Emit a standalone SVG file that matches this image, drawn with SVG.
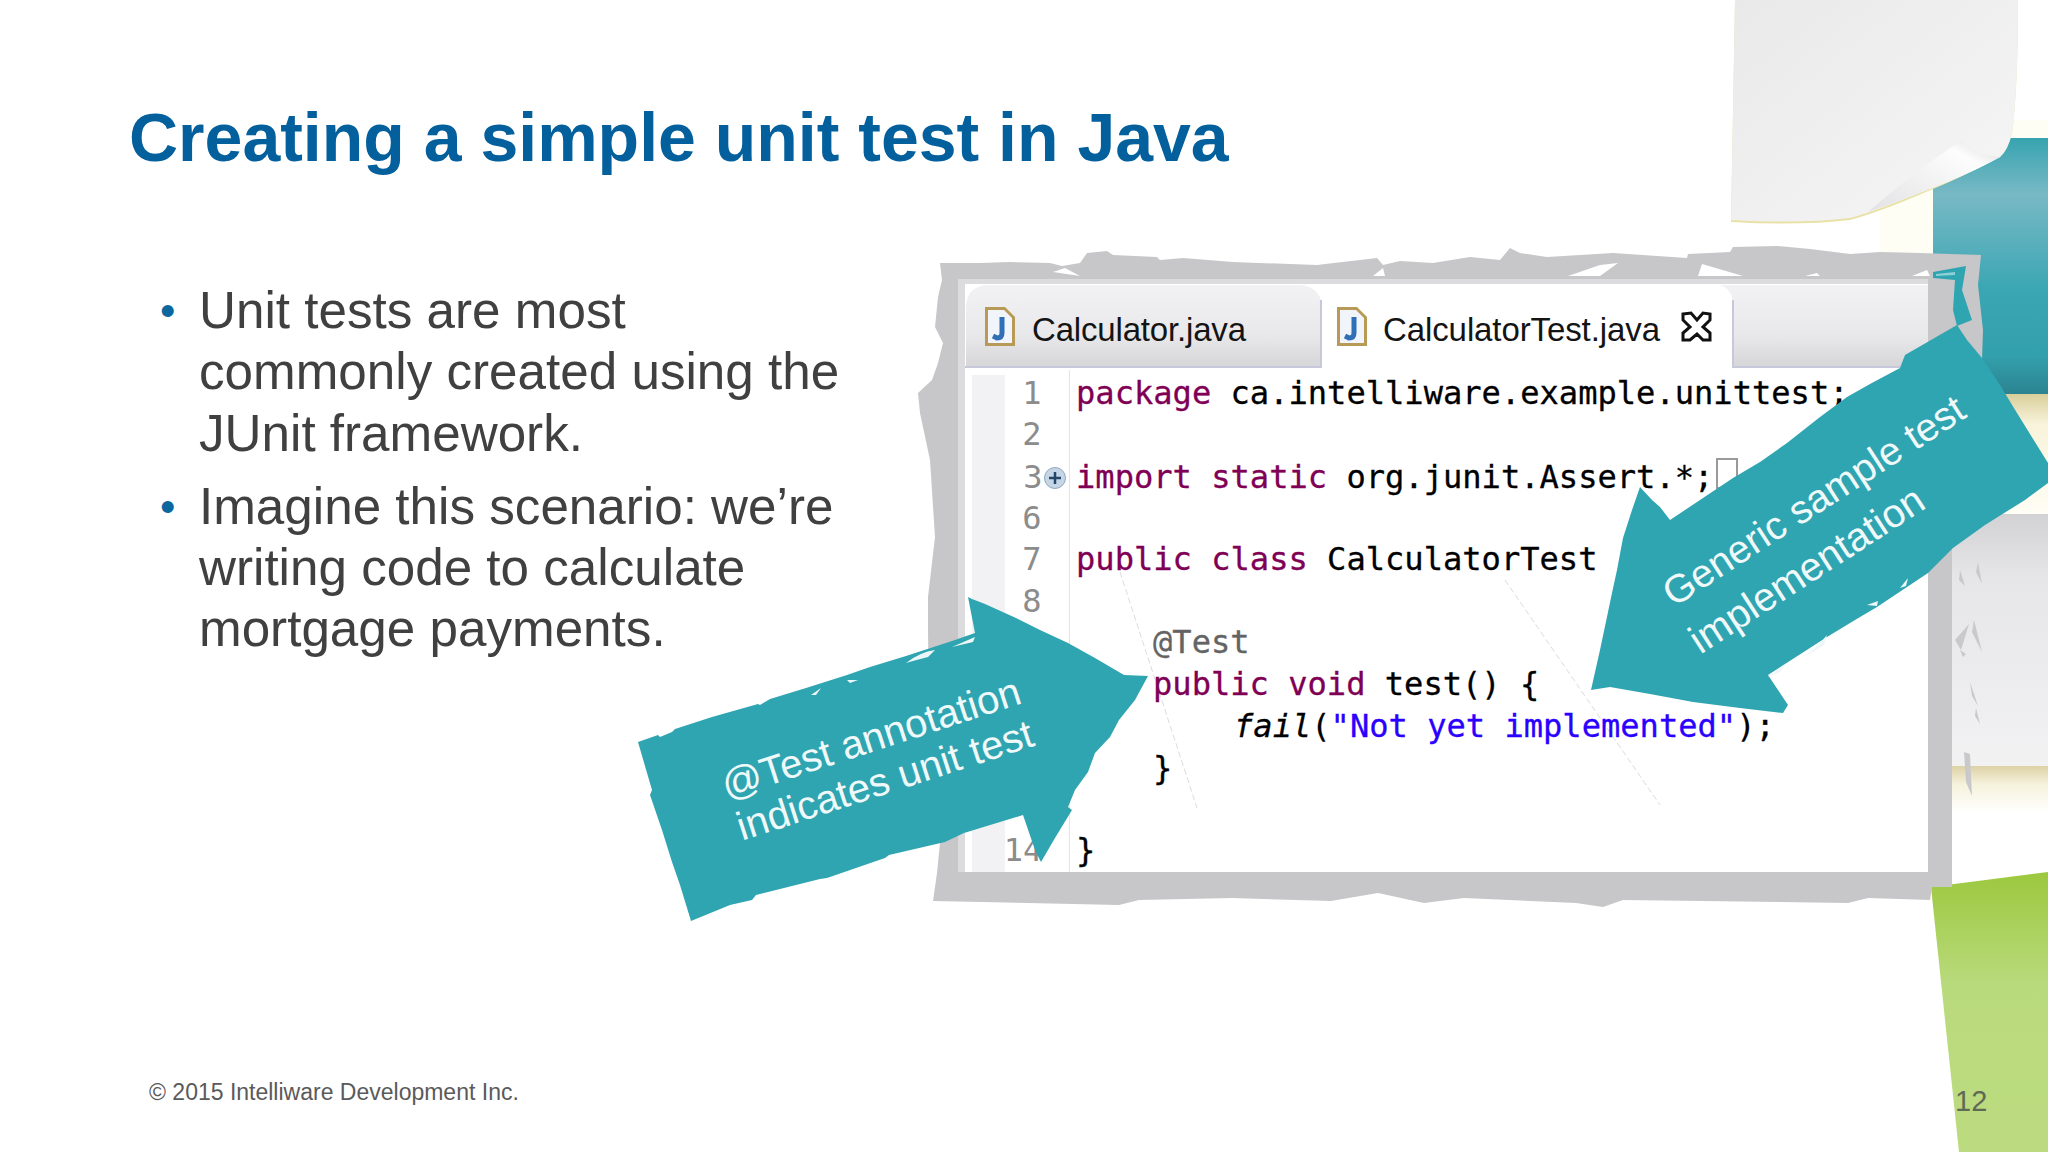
<svg xmlns="http://www.w3.org/2000/svg" width="2048" height="1152" viewBox="0 0 2048 1152">
<style>
.sans{font-family:"Liberation Sans",Arial,sans-serif}
.body{font-size:51.2px;fill:#404040}
.bullet{font-size:44px;fill:#0b689f}
.code{font-family:"DejaVu Sans Mono","Liberation Mono",monospace;font-size:32.1px;fill:#000;stroke:#000;stroke-width:.3px;white-space:pre}
.kw{fill:#7f0055;stroke:#7f0055}.str{fill:#2a00ff;stroke:#2a00ff}.ann{fill:#646464;stroke:#646464}
.num{font-family:"DejaVu Sans Mono","Liberation Mono",monospace;font-size:32px;fill:#8c8c8c;text-anchor:middle}
.tab{font-size:33px;fill:#141414}
.call{font-size:40px;fill:#f0f9fa;text-anchor:middle}
.teal{fill:#2fa5b1}
.frame{fill:#c7c6c9}
.speck{fill:#c9c9cb}
.flake{fill:#eef7f8}
</style>
<defs>
<linearGradient id="tealBg" x1="0" y1="0" x2="0" y2="1"><stop offset="0" stop-color="#37a4b0"/><stop offset=".22" stop-color="#78b9c5"/><stop offset=".6" stop-color="#3aa6b3"/><stop offset=".85" stop-color="#33a0ad"/><stop offset="1" stop-color="#2b8490"/></linearGradient>
<linearGradient id="paper" x1="0" y1="0" x2="1" y2="1"><stop offset="0" stop-color="#e9e9ea"/><stop offset="1" stop-color="#f6f6f7"/></linearGradient>
<linearGradient id="paper2" x1="0" y1="0" x2="0" y2="1"><stop offset="0" stop-color="#d2d2d5"/><stop offset=".25" stop-color="#e6e6e9"/><stop offset="1" stop-color="#f2f2f3"/></linearGradient>
<linearGradient id="cream" x1="0" y1="0" x2="0" y2="1"><stop offset="0" stop-color="#ddd2a6"/><stop offset=".4" stop-color="#f6f2dc"/><stop offset="1" stop-color="#fff"/></linearGradient>
<linearGradient id="cream2" x1="0" y1="0" x2="0" y2="1"><stop offset="0" stop-color="#d8cd98"/><stop offset=".25" stop-color="#f8f3da"/><stop offset="1" stop-color="#fffef6"/></linearGradient>
<linearGradient id="green" x1="0" y1="0" x2="0" y2="1"><stop offset="0" stop-color="#9cc83e"/><stop offset=".4" stop-color="#b9da7c"/><stop offset="1" stop-color="#bcdb80"/></linearGradient>
<linearGradient id="tabG" x1="0" y1="0" x2="0" y2="1"><stop offset="0" stop-color="#f2f1f3"/><stop offset=".6" stop-color="#e9e9eb"/><stop offset="1" stop-color="#d6d6d9"/></linearGradient>
<linearGradient id="curl" x1="0" y1="1" x2="1" y2="0"><stop offset="0" stop-color="#e2e2e4"/><stop offset=".75" stop-color="#fdfdfd"/><stop offset="1" stop-color="#d8d8da"/></linearGradient>
<g id="jicon"><path d="M0 0H20L30 10V39H0Z" fill="#b69a55"/><path d="M3 3H19L27 11V36H3Z" fill="#f1f4fa"/><path d="M17 10V26Q17 31 12 31L8 29" fill="none" stroke="#2f6fb6" stroke-width="5"/></g>
</defs>

<g id="background">
<rect width="2048" height="1152" fill="#fff"/>
<rect x="1880" y="120" width="168" height="150" fill="#fffef4"/>
<rect x="1933" y="393" width="115" height="122" fill="url(#cream2)"/>
<rect x="1933" y="138" width="115" height="256" fill="url(#tealBg)"/>
<path d="M1735 0H2018Q2018 90 2012 133Q2008 150 2000 157Q1960 178 1933 189Q1880 212 1850 220Q1800 226 1731 222Z" fill="#e8e2a6"/>
<path d="M1735 0H2018Q2018 90 2012 133Q2008 150 2000 157Q1960 178 1933 187Q1880 210 1850 218Q1800 224 1731 220Z" fill="url(#paper)"/>
<path d="M1868 212Q1910 175 1962 140Q1972 155 2000 157Q1960 180 1868 212Z" fill="url(#curl)"/>
<rect x="1952" y="514" width="96" height="256" fill="url(#paper2)"/>
<rect x="1952" y="766" width="96" height="46" fill="url(#cream)"/>
<path d="M1931 887L2048 872V1152H1959Z" fill="url(#green)"/>
<g class="speck">
<path d="M1978 562l4 22l-6-12zM1960 570l5 16l-6-6zM1974 620l8 32l-10-20zM1955 640l14-16l-8 26zM1970 682l8 24l-6-10zM1976 708l4 16l-5-8zM1964 752l6 2l2 42l-6-14zM1960 650l6 4l-3 3z"/>
</g>
</g>

<g id="title"><text class="sans" x="129" y="161" font-size="68" font-weight="700" fill="#03609c">Creating a simple unit test in Java</text></g>

<g id="bullets" class="sans">
<text class="bullet" x="160" y="326">•</text>
<text class="body" x="199" y="328">Unit tests are most</text>
<text class="body" x="199" y="389">commonly created using the</text>
<text class="body" x="199" y="451">JUnit framework.</text>
<text class="bullet" x="160" y="522">•</text>
<text class="body" x="199" y="524">Imagine this scenario: we’re</text>
<text class="body" x="199" y="585">writing code to calculate</text>
<text class="body" x="199" y="646">mortgage payments.</text>
</g>

<g id="screenshot">
<path class="frame" d="M940 263L980 263L1010 262L1050 263L1062 266L1080 263L1087 253L1107 251L1113 255L1157 257L1160 260L1183 258L1233 262L1317 265L1377 258L1383 265L1400 261L1433 263L1470 257L1500 260L1510 248L1520 253L1547 257L1613 253L1687 258L1688 254L1730 252L1733 247L1777 246L1810 249L1850 254L1880 252L1920 253L1981 255L1978 285L1983 330L1982 360L1952 420V887L1932 887L1930 900L1868 898L1848 903L1623 900L1603 907L1576 903L1464 898L1424 903L1378 893L1331 901L1232 898L1139 900L1119 905L933 901L937 873L940 843L930 780L928 630L928 597L935 537L930 460L920 413L918 393L932 380L938 363L943 343L935 327L938 297L942 280Z"/>
<g fill="#fff">
<path d="M1053 272L1080 276L1065 268ZM1373 276L1383 268L1385 276ZM1568 276L1600 265L1618 263L1600 276ZM1698 276L1702 264L1743 276ZM1805 276L1817 273L1820 276ZM1912 276L1927 270L1930 276Z"/>
</g>
<rect x="958" y="279" width="970" height="5" fill="#dcdcde"/>
<rect x="958" y="279" width="7" height="593" fill="#dcdcde"/>
<rect x="965" y="284" width="963" height="588" fill="#fff"/>
<path d="M1933 272L1966 266L1962 290L1972 320L1957 326L1953 310L1955 280L1933 278Z" class="teal"/>
<path d="M1936 274L1955 272L1955 275L1936 276Z" fill="#8ccfd6"/>
<path d="M966 367V306Q967 288 985 285H1300Q1316 286 1321 300V367Z" fill="url(#tabG)"/>
<path d="M1733 367V300Q1730 288 1720 285H1928V367Z" fill="url(#tabG)"/>
<path d="M965 367H1321V300M1733 300V367H1928" fill="none" stroke="#c8c8dc" stroke-width="2"/>
<use href="#jicon" x="985" y="307"/>
<use href="#jicon" x="1337" y="307"/>
<text class="sans tab" x="1032" y="341" textLength="214">Calculator.java</text>
<text class="sans tab" x="1383" y="341" textLength="277">CalculatorTest.java</text>
<path d="M1683 314L1691 313L1697 320L1703 313L1710 314L1710 320L1703 327L1710 333L1710 340L1703 340L1697 334L1690 340L1683 340L1683 333L1690 327L1683 320Z" fill="#fff" stroke="#111" stroke-width="3"/>
<rect x="972" y="375" width="33" height="497" fill="#f2f1f3"/>
<rect x="1069" y="370" width="1" height="502" fill="#e4e4e4"/>
<path d="M1120 572L1197 808M1505 580L1660 805" fill="none" stroke="#dcdcdc" stroke-width="1" stroke-dasharray="6 3"/>
<text class="num" x="1032" y="404">1</text>
<text class="num" x="1032" y="445">2</text>
<text class="num" x="1033" y="488">3</text>
<text class="num" x="1032" y="529">6</text>
<text class="num" x="1032" y="570">7</text>
<text class="num" x="1032" y="612">8</text>
<text class="num" x="1023" y="861">14</text>
<circle cx="1055" cy="478" r="10.5" fill="#c5d6e6" stroke="#8fa9c0"/>
<path d="M1049 478H1061M1055 472V484" stroke="#24466a" stroke-width="2.5"/>
<rect x="1717" y="459" width="20" height="29" fill="#fff" stroke="#9a9a9a" stroke-width="2"/>
<text class="code" x="1076" y="404"><tspan class="kw">package</tspan> ca.intelliware.example.unittest;</text>
<text class="code" x="1076" y="488"><tspan class="kw">import</tspan> <tspan class="kw">static</tspan> org.junit.Assert.*;</text>
<text class="code" x="1076" y="570"><tspan class="kw">public</tspan> <tspan class="kw">class</tspan> CalculatorTest {</text>
<text class="code ann" x="1153" y="653">@Test</text>
<text class="code" x="1153" y="695"><tspan class="kw">public</tspan> <tspan class="kw">void</tspan> test() {</text>
<text class="code" x="1234" y="737"><tspan font-style="italic">fail</tspan>(<tspan class="str">"Not yet implemented"</tspan>);</text>
<text class="code" x="1153" y="779">}</text>
<text class="code" x="1076" y="861">}</text>
</g>

<g id="callout-test-annotation">
<path class="teal" d="M638 742L658 735L660 737L672 732L675 729L712 717L758 704L760 705L770 699L806 688L847 675L870 667L906 656L952 641L975 633L968 597L972 599L985 604L1016 618L1040 630L1068 643L1095 658L1124 675L1148 676L1135 700L1119 720L1110 737L1095 753L1088 772L1075 790L1068 807L1072 810L1055 838L1041 862L1035 850L1023 815L964 833L945 842L889 855L885 858L827 878L820 879L756 895L752 900L730 905L691 921L680 885L672 862L662 830L650 795L652 790Z"/>
<path class="flake" d="M906 663Q920 652 935 650L928 657Q916 660 906 663ZM952 647L975 637L973 642ZM847 680L858 680L850 683ZM811 695L821 688L816 695Z"/>
<text class="sans call" transform="translate(875 751) rotate(-18)">@Test annotation</text>
<text class="sans call" transform="translate(889 793) rotate(-18)">indicates unit test</text>
</g>

<g id="callout-generic-sample">
<path class="teal" d="M1591 690L1600 650L1612 593L1617 570L1623 538L1632 510L1640 487L1652 500L1660 507L1670 520L1733 478L1760 462L1787 443L1820 417L1847 397L1870 384L1900 368L1905 355L1957 325L1967 340L1982 358L2000 385L2017 413L2048 463V483L2025 500L1985 525L1953 548L1928 573L1877 607L1855 620L1827 637L1768 675L1788 705L1783 713L1740 708L1693 702L1650 694L1610 687Z"/>
<path class="flake" d="M1802 657Q1815 650 1827 635L1824 645Q1812 653 1802 657ZM1768 677L1787 663L1780 672ZM1867 605L1878 601L1877 606ZM1900 588L1908 578L1906 586Z"/>
<text class="sans call" font-size="39.5" style="font-size:39.5px" transform="translate(1821 512) rotate(-33)">Generic sample test</text>
<text class="sans call" transform="translate(1814 581) rotate(-33)">implementation</text>
</g>

<g id="footer" class="sans">
<text x="149" y="1100" font-size="23" fill="#5a5a5a">© 2015 Intelliware Development Inc.</text>
<text x="1955" y="1111" font-size="29" fill="#5f6b55">12</text>
</g>
</svg>
